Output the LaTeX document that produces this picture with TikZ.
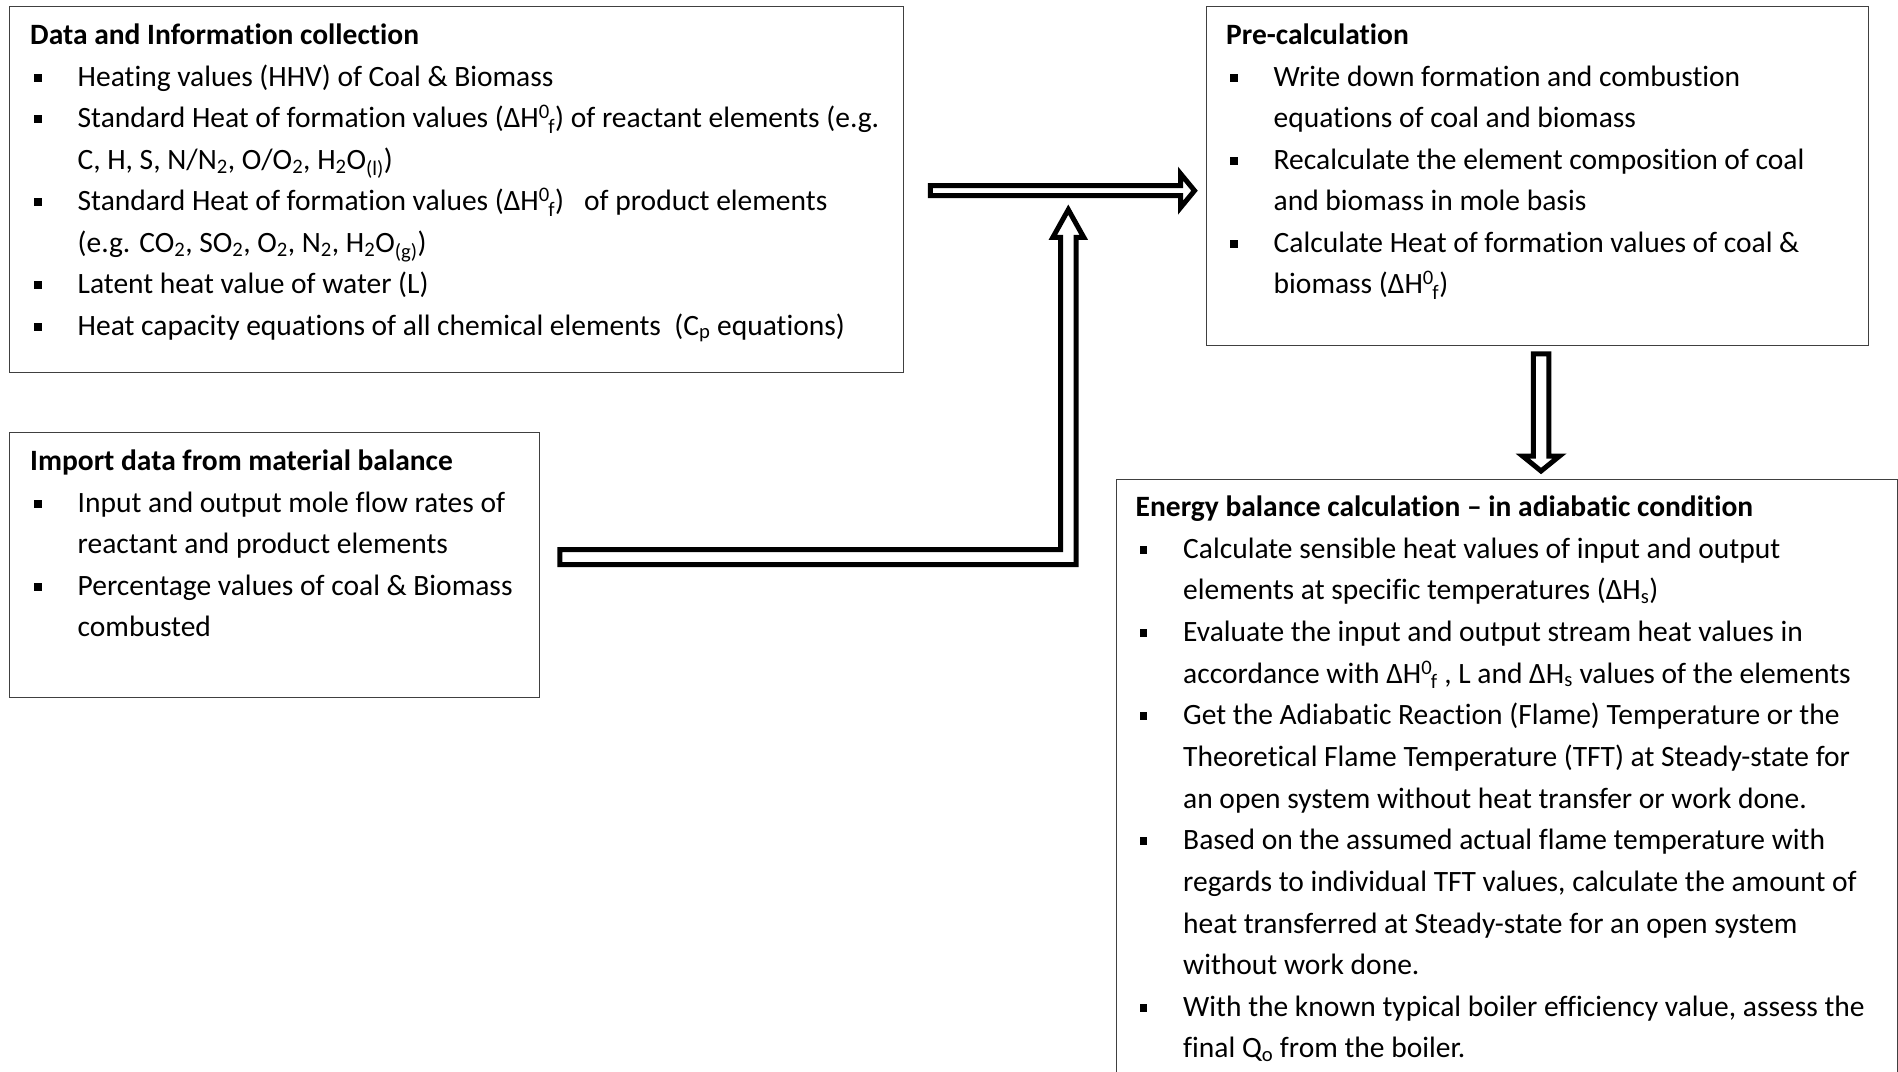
\documentclass[tikz,border=0pt]{standalone}
\usepackage{fontspec}
\setmainfont{Carlito}[Ligatures={NoCommon}]
\usetikzlibrary{calc}

% small square list bullet and hanging indents
\newcommand{\bul}{\hspace*{4pt}\makebox[43.5pt][l]{\raisebox{4.3pt}{\rule{7.5pt}{8pt}}}}
\newcommand{\ind}{\hspace*{47.5pt}}
\newcommand{\dHf}{ΔH\textsuperscript{0}\kern-0.05em\textsubscript{f}}
\newcommand{\dHs}{ΔH\textsubscript{s}}
\newcommand{\sub}[1]{\textsubscript{#1}}
% stacked lines whose reference point is the baseline of the first line
\newcommand{\stack}[2][41.5pt]{\vtop{\baselineskip=#1\lineskiplimit=-100pt\halign{##\hfil\cr#2\crcr}}}

\begin{document}
\begin{tikzpicture}[x=1pt,y=-1pt,
  panel/.style={draw=black!75, line width=1.3pt, anchor=north west, inner sep=0pt},
  body/.style={anchor=base west, inner sep=0pt,
    font=\fontsize{29.5}{41.5}\selectfont},
  blockarrow/.style={draw=black, fill=white, line width=5pt, line join=miter, miter limit=10}]

\clip (0,0) rectangle (1898,1071);
\useasboundingbox (0,0) rectangle (1898,1071);

% boxes
\node[panel, minimum width=894.5pt, minimum height=366pt] (data) at (8.5,6) {};
\node[panel, minimum width=530.5pt, minimum height=265pt] (imp) at (8.5,432) {};
\node[panel, minimum width=662pt, minimum height=339pt] (pre) at (1206,6) {};
\node[panel, minimum width=781pt, minimum height=700pt] (en) at (1116,479) {};

% box contents
\node[body] (datatxt) at ($(data.north west)+(21.5,38.5)$) {\stack{%
  \textbf{Data and Information collection}\cr
  \bul Heating values (HHV) of Coal \& Biomass\cr
  \bul Standard Heat of formation values (\dHf) of reactant elements (e.g.\cr
  \ind C, H, S, N/N\sub{2}, O/O\sub{2}, H\sub{2}O\sub{(l)})\cr
  \bul Standard Heat of formation values (\dHf)\ \ \ of product elements\cr
  \ind (e.g. CO\sub{2}, SO\sub{2}, O\sub{2}, N\sub{2}, H\sub{2}O\sub{(g)})\cr
  \bul Latent heat value of water (L)\cr
  \bul Heat capacity equations of all chemical elements\ \ (C\sub{p} equations)}};

\node[body] (imptxt) at ($(imp.north west)+(21.5,38.5)$) {\stack{%
  \textbf{Import data from material balance}\cr
  \bul Input and output mole flow rates of\cr
  \ind reactant and product elements\cr
  \bul Percentage values of coal \& Biomass\cr
  \ind combusted}};

\node[body] (pretxt) at ($(pre.north west)+(20,38.5)$) {\stack{%
  \textbf{Pre-calculation}\cr
  \bul Write down formation and combustion\cr
  \ind equations of coal and biomass\cr
  \bul Recalculate the element composition of coal\cr
  \ind and biomass in mole basis\cr
  \bul Calculate Heat of formation values of coal \&\cr
  \ind biomass (\dHf)}};

\node[body] (entxt) at ($(en.north west)+(19.5,37.5)$) {\stack[41.65pt]{%
  \textbf{Energy balance calculation -- in adiabatic condition}\cr
  \bul Calculate sensible heat values of input and output\cr
  \ind elements at specific temperatures (\dHs)\cr
  \bul Evaluate the input and output stream heat values in\cr
  \ind accordance with \dHf\ , L and \dHs\ values of the elements\cr
  \bul Get the Adiabatic Reaction (Flame) Temperature or the\cr
  \ind Theoretical Flame Temperature (TFT) at Steady-state for\cr
  \ind an open system without heat transfer or work done.\cr
  \bul Based on the assumed actual flame temperature with\cr
  \ind regards to individual TFT values, calculate the amount of\cr
  \ind heat transferred at Steady-state for an open system\cr
  \ind without work done.\cr
  \bul With the known typical boiler efficiency value, assess the\cr
  \ind final Q\sub{o} from the boiler.}};

% block arrow: data collection -> pre-calculation
\coordinate (h0) at ($(data.east)+(26,1)$);
\coordinate (h1) at ($(h0 -| pre.west)+(-11.5,0)$);
\draw[blockarrow] ($(h0)+(0,-5)$) -- ($(h1)+(-14,-5)$) -- ($(h1)+(-14,-17)$)
  -- (h1) -- ($(h1)+(-14,17)$) -- ($(h1)+(-14,5)$) -- ($(h0)+(0,5)$) -- cycle;

% bent block arrow: material balance -> joins the upper arrow
\coordinate (b0) at ($(imp.east)+(19.5,-8)$);
\coordinate (b1) at ($(h0)+(138,19)$);
\draw[blockarrow] ($(b0)+(0,-7.5)$) -- ($(b0 -| b1)+(-7.8,-7.5)$)
  -- ($(b1)+(-7.8,27.8)$) -- ($(b1)+(-15.5,27.8)$) -- (b1)
  -- ($(b1)+(15.5,27.8)$) -- ($(b1)+(7.8,27.8)$)
  -- ($(b0 -| b1)+(7.8,7.5)$) -- ($(b0)+(0,7.5)$) -- cycle;

% block arrow: pre-calculation -> energy balance
\coordinate (d0) at ($(pre.south)+(3.4,7.5)$);
\coordinate (d1) at ($(d0 |- en.north)+(0,-8)$);
\draw[blockarrow] ($(d0)+(-7.8,0)$) -- ($(d1)+(-7.8,-15)$) -- ($(d1)+(-18.5,-15)$)
  -- (d1) -- ($(d1)+(18.5,-15)$) -- ($(d1)+(7.8,-15)$) -- ($(d0)+(7.8,0)$) -- cycle;

\end{tikzpicture}
\end{document}
